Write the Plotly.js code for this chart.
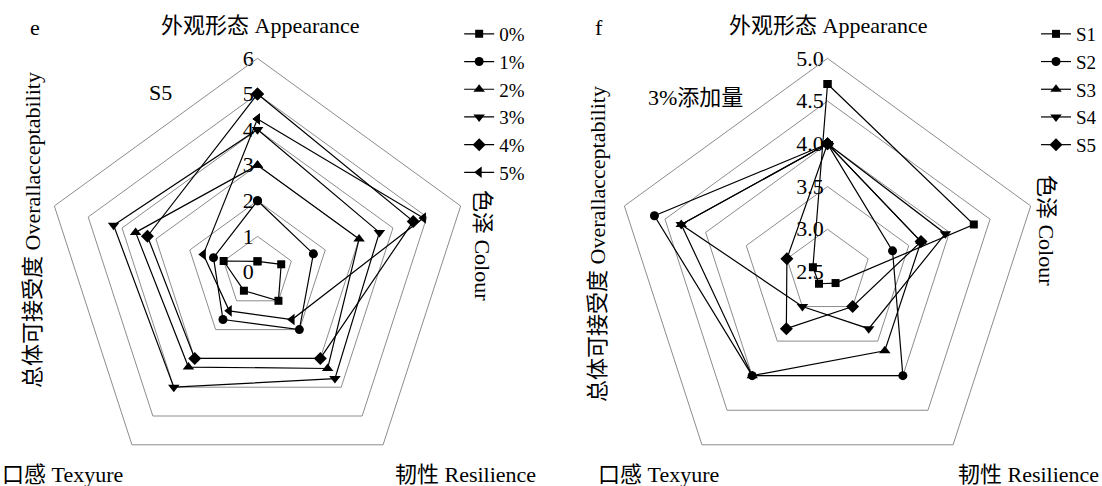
<!DOCTYPE html>
<html><head><meta charset="utf-8">
<script src="https://cdn.plot.ly/plotly-3.0.1.min.js"></script>
<style>html,body{margin:0;padding:0;background:#fff}</style>
</head><body><div id="chart" style="width:1102px;height:486px"></div>
<script>
const categories = ['外观形态 Appearance','色泽 Colour','韧性 Resilience','口感 Texyure','总体可接受度 Overallacceptability'];

// Chart e: addition levels (S5)
const levelNames = ['0%','1%','2%','3%','4%','5%'];
const level0 = [0.3, 0.7, 1.0, 0.65, 1.0];
const level1 = [2.0, 1.65, 2.0, 1.65, 1.3];
const level2 = [3.0, 3.0, 3.35, 3.3, 3.6];
const level3 = [4.0, 3.6, 3.7, 4.0, 4.25];
const level4 = [5.0, 4.6, 3.0, 3.0, 3.25];
const level5 = [4.3, 4.9, 1.65, 1.35, 1.6];
const levelSeries = [level0, level1, level2, level3, level4, level5];
const levelTicks = [0, 1, 2, 3, 4, 5, 6];

// Chart f: samples at 3% addition
const sampleNames = ['S1','S2','S3','S4','S5'];
const sampleS1 = [4.7, 4.3, 2.66, 2.67, 2.68];
const sampleS2 = [4.0, 3.3, 4.0, 4.0, 4.63];
const sampleS3 = [4.0, 3.65, 3.64, 4.0, 4.3];
const sampleS4 = [4.0, 3.95, 3.32, 3.0, 4.3];
const sampleS5 = [4.0, 3.65, 3.0, 3.32, 3.0];
const sampleSeries = [sampleS1, sampleS2, sampleS3, sampleS4, sampleS5];
const sampleTicks = [2.5, 3.0, 3.5, 4.0, 4.5, 5.0];

const symbolsE = ['square','circle','triangle-up','triangle-down','diamond','triangle-left'];
const symbolsF = ['square','circle','triangle-up','triangle-down','diamond'];

const FONT = 'Liberation Serif, Times New Roman, Noto Sans CJK SC, serif';
const FS = 22;
const closeLoop = a => a.concat([a[0]]);
const sizeFor = s => s === 'square' ? 8 : (s === 'circle' ? 9 : 10);

const traces = [];
levelSeries.forEach((vals, i) => {
  traces.push({
    type: 'scatterpolar', subplot: 'polar', legend: 'legend', legendgroup: 'e' + i,
    name: levelNames[i], r: closeLoop(vals), theta: closeLoop(categories),
    mode: 'lines+markers', line: {color: '#000', width: 1.2},
    marker: {symbol: symbolsE[i], size: sizeFor(symbolsE[i]), color: '#000'},
    hoverinfo: 'skip', cliponaxis: false
  });
});
sampleSeries.forEach((vals, i) => {
  traces.push({
    type: 'scatterpolar', subplot: 'polar2', legend: 'legend2', legendgroup: 'f' + i,
    name: sampleNames[i], r: closeLoop(vals), theta: closeLoop(categories),
    mode: 'lines+markers', line: {color: '#000', width: 1.2},
    marker: {symbol: symbolsF[i], size: sizeFor(symbolsF[i]), color: '#000'},
    hoverinfo: 'skip', cliponaxis: false
  });
});

const GRID = '#8c8c8c';
function polarCfg(xdom, ticks, fmt) {
  return {
    domain: {x: xdom, y: [0, 0.8807]},
    gridshape: 'linear', bgcolor: '#fff',
    radialaxis: {
      range: [ticks[0], ticks[ticks.length - 1]], tickvals: ticks, tickformat: fmt,
      angle: 90, tickangle: 90, showline: false, ticks: '', gridcolor: GRID, gridwidth: 1,
      tickfont: {family: FONT, size: FS, color: '#000'}, side: 'counterclockwise', layer: 'below traces'
    },
    angularaxis: {
      type: 'category', categoryarray: categories, rotation: 90, direction: 'clockwise',
      showgrid: false, ticks: '', showticklabels: false, showline: true, linecolor: GRID, linewidth: 1
    }
  };
}

const ann = (text, x, y, angle, extra) => Object.assign({
  text: text, x: x / 1102, y: 1 - y / 486, xref: 'paper', yref: 'paper',
  showarrow: false, textangle: angle || 0, xanchor: 'center', yanchor: 'middle',
  font: {family: FONT, size: FS, color: '#000'}
}, extra || {});

const legendCfg = x => ({
  x: x / 1102, y: 1 - 15 / 486, xanchor: 'left', yanchor: 'top', tracegroupgap: 0,
  font: {family: FONT, size: 19, color: '#000'}, bgcolor: 'rgba(0,0,0,0)', itemwidth: 30
});

const layout = {
  width: 1102, height: 486, margin: {l: 0, r: 0, t: 0, b: 0},
  paper_bgcolor: '#fff', plot_bgcolor: '#fff',
  font: {family: FONT, color: '#000'},
  polar: polarCfg([0.0399, 0.4283], levelTicks, 'd'),
  polar2: polarCfg([0.5581, 0.9465], sampleTicks, '.1f'),
  legend: legendCfg(460),
  legend2: legendCfg(1038),
  annotations: [
    ann('e', 35, 27),
    ann('外观形态 Appearance', 261, 25),
    ann('S5', 161, 93),
    ann('色泽 Colour', 484, 245, 90),
    ann('总体可接受度 Overallacceptability', 33, 230, -90),
    ann('口感 Texyure', 63, 474),
    ann('韧性 Resilience', 466, 474),
    ann('f', 600, 27),
    ann('外观形态 Appearance', 830, 25),
    ann('3%添加量', 697, 97),
    ann('色泽 Colour', 1048, 230, 90),
    ann('总体可接受度 Overallacceptability', 598, 244, -90),
    ann('口感 Texyure', 660, 474),
    ann('韧性 Resilience', 1030, 474)
  ]
};

Plotly.newPlot('chart', traces, layout, {displayModeBar: false, staticPlot: true});
</script>
</body></html>
